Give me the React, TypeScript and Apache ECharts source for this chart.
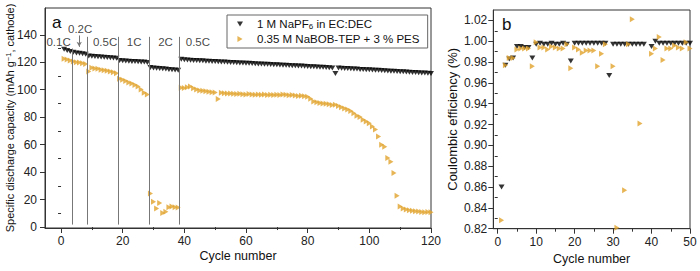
import React, { useEffect, useRef } from "react";
import * as echarts from "echarts";

// ---------- DATA ----------
const NAME_PF6 = "1 M NaPF6 in EC:DEC";
const NAME_BOB = "0.35 M NaBOB-TEP + 3 % PES";

// Specific discharge capacity (mAh/g), cycles 1..120
const capPF6 = [
  129.5, 128.5, 127.8, 127.2, 126.8, 126.5, 126.2, 125.9, 124.6, 124.4,
  124.2, 124.0, 123.8, 123.6, 123.4, 123.3, 123.1, 122.9, 121.3, 121.1,
  120.9, 120.8, 120.6, 120.5, 120.4, 120.2, 120.1, 119.9, 116.2, 115.9,
  115.6, 115.4, 115.2, 115.0, 114.8, 114.6, 114.4, 114.2, 122.2, 121.8,
  121.6, 121.5, 121.3, 121.2, 121.1, 121.0, 120.8, 120.7, 120.6, 120.5,
  120.3, 120.2, 120.1, 120.0, 119.9, 119.8, 119.6, 119.5, 119.4, 119.3,
  119.2, 119.1, 118.9, 118.8, 118.7, 118.6, 118.5, 118.4, 118.2, 118.1,
  118.0, 117.9, 117.8, 117.6, 117.5, 117.4, 117.3, 117.2, 117.0, 116.9,
  116.8, 116.7, 116.5, 116.4, 116.3, 116.2, 116.0, 115.9, 111.8, 115.8,
  115.6, 115.5, 115.4, 115.2, 115.1, 115.0, 114.8, 114.7, 114.6, 114.5,
  114.3, 114.2, 114.1, 113.9, 113.8, 113.7, 113.5, 113.4, 113.3, 113.1,
  113.0, 112.9, 112.7, 112.6, 112.5, 112.3, 112.2, 112.1, 111.9, 111.8,
];

const capBOB = [
  122.5, 122.0, 121.3, 120.5, 120.0, 119.8, 119.3, 118.7, 113.2, 116.0,
  115.5, 115.2, 114.6, 114.2, 113.8, 113.2, 112.8, 112.0, 108.0, 107.2,
  106.3, 105.2, 104.6, 103.5, 102.3, 100.2, 97.8, 96.5, 24.5, 18.5,
  13.5, 17.5, 10.2, 11.2, 14.5, 15.0, 14.5, 14.2, 101.5, 101.2,
  101.8, 102.3, 101.0, 100.2, 99.5, 99.3, 98.8, 98.6, 98.2, 98.0,
  93.2, 97.8, 97.5, 97.3, 97.2, 97.0, 96.8, 97.0, 96.7, 96.5,
  96.8, 96.6, 96.4, 96.5, 96.3, 96.5, 96.2, 96.4, 96.1, 96.3,
  96.2, 96.5, 96.3, 96.0, 96.2, 95.8, 95.5, 95.6, 95.2, 94.8,
  93.5, 91.5, 90.8, 90.3, 90.0, 89.8, 89.5, 88.8, 89.0, 88.2,
  87.3, 86.4, 85.5, 84.5, 82.8, 81.0, 80.2, 78.2, 76.8, 75.5,
  73.2, 71.0, 66.0, 60.0, 58.5, 50.2, 47.5, 39.3, 22.8, 15.0,
  13.5, 12.8, 12.3, 11.8, 11.5, 11.3, 11.0, 10.8, 11.0, 10.7,
];

// Coulombic efficiency, cycles 1..50 (null = outside plotted range / not visible)
const cePF6 = [
  0.860, 0.977, 0.983, 0.984, 0.995, 0.995, 0.994, 0.994, 0.984, 0.997,
  0.998, 0.997, 0.997, 0.998, 0.997, 0.997, 0.998, 0.997, 0.981, 0.998,
  0.998, 0.998, 0.998, 0.998, 0.998, 0.998, 0.998, 0.998, 0.967, 0.997,
  0.997, 0.997, 0.997, 0.997, 0.997, 0.997, 0.997, 0.997, null, 0.995,
  1.000, 0.998, 0.998, 0.998, 0.998, 0.998, 0.998, 0.998, 0.998, 0.998,
];

const ceBOB = [
  0.828, 0.977, 0.984, 0.984, 0.992, 0.993, 0.993, 0.993, 0.976, 0.999,
  0.994, 0.994, 0.992, 0.995, 0.994, 0.993, 0.993, 0.997, 0.974, 0.994,
  0.992, 0.989, 0.991, 0.991, 0.991, 0.976, 0.988, 0.997, null, 0.976,
  0.821, null, 0.857, 0.997, 1.021, null, 0.921, null, null, 0.988,
  0.993, 1.004, 0.982, 0.993, 0.993, 0.996, 0.994, 0.993, 0.999, 0.993,
];

// C-rate boundaries (cycle) and labels
const rateBoundaries = [3.5, 8.5, 18.5, 28.5, 38.5];
const rateLabels = ["0.1C", "0.2C", "0.5C", "1C", "2C", "0.5C"];
const rateLabelX = [-0.8, 6.2, 14.3, 23.7, 33.9, 44.4];
const rateLabelY = [135, 144, 135, 135, 135, 135];

// Tick labels
const capXTicks = [0, 20, 40, 60, 80, 100, 120];
const capXMinor = [10, 30, 50, 70, 90, 110];
const capYTicks = [0, 20, 40, 60, 80, 100, 120, 140];
const capYMinor = [10, 30, 50, 70, 90, 110, 130, 150];
const ceXTicks = [0, 10, 20, 30, 40, 50];
const ceXMinor = [5, 15, 25, 35, 45];
const ceYTicks = [0.82, 0.84, 0.86, 0.88, 0.9, 0.92, 0.94, 0.96, 0.98, 1.0, 1.02];
const ceYMinor = [0.83, 0.85, 0.87, 0.89, 0.91, 0.93, 0.95, 0.97, 0.99, 1.01];

// ---------- STYLE ----------
const FONT = "'Liberation Sans', Arial, Helvetica, sans-serif";
const AX = "#333";
const ORANGE = "#E1A32B";
const DOWN = "path://M0,0 L10,0 L5,8.5 Z";
const RIGHT = "path://M0,0 L8.5,5 L0,10 Z";

function toPairs(arr: (number | null)[]) {
  const out: any[] = [];
  arr.forEach((v, i) => {
    if (v !== null) out.push([i + 1, v]);
  });
  return out;
}

function majorAxis(gridIndex: number, min: number, max: number, ticks: number[], extra: any) {
  return {
    type: "value",
    gridIndex,
    min,
    max,
    nameMoveOverlap: false,
    axisLine: { show: true, onZero: false, lineStyle: { color: AX, width: 1 } },
    axisTick: { show: true, length: 5, customValues: ticks, lineStyle: { color: AX } },
    axisLabel: { customValues: ticks, fontSize: 12, color: "#222", fontFamily: FONT, margin: 7 },
    splitLine: { show: false },
    ...extra,
  };
}

function minorAxis(gridIndex: number, min: number, max: number, ticks: number[], position: string) {
  return {
    type: "value",
    gridIndex,
    min,
    max,
    position,
    axisLine: { show: false },
    axisTick: { show: true, length: 3, customValues: ticks, lineStyle: { color: AX } },
    axisLabel: { show: false },
    splitLine: { show: false },
  };
}

export default function App() {
  const ref = useRef<HTMLDivElement>(null);
  useEffect(() => {
    if (!ref.current) return;
    const chart = echarts.init(ref.current, null, { renderer: "svg" });
    const option: any = {
      animation: false,
      textStyle: { fontFamily: FONT },
      grid: [
        {
          left: 45, top: 8, width: 386, height: 220, show: true, borderColor: AX, borderWidth: 1,
          containLabel: false, outerBoundsMode: "none",
        },
        {
          left: 493.3, top: 10, width: 196.7, height: 218.7, show: true, borderColor: AX, borderWidth: 1,
          containLabel: false, outerBoundsMode: "none",
        },
      ],
      xAxis: [
        majorAxis(0, -5.2, 120, capXTicks, {
          position: "bottom",
          name: "Cycle number",
          nameLocation: "middle",
          nameGap: 21,
          nameTextStyle: { fontSize: 12.5, color: "#111", fontFamily: FONT },
        }),
        minorAxis(0, -5.2, 120, capXMinor, "bottom"),
        majorAxis(1, -1.15, 50, ceXTicks, {
          position: "bottom",
          name: "Cycle number",
          nameLocation: "middle",
          nameGap: 24,
          nameTextStyle: { fontSize: 12.5, color: "#111", fontFamily: FONT },
        }),
        minorAxis(1, -1.15, 50, ceXMinor, "bottom"),
      ],
      yAxis: [
        majorAxis(0, -0.7, 159.5, capYTicks, {
          position: "left",
          name: "Specific discharge capacity (mAh g{sup|−1}, cathode)",
          nameLocation: "middle",
          nameGap: 30,
          nameTextStyle: {
            fontSize: 11,
            color: "#111",
            fontFamily: FONT,
            rich: { sup: { fontSize: 7.5, verticalAlign: "top", fontFamily: FONT, color: "#111" } },
          },
          axisLabel: { customValues: capYTicks, fontSize: 12, color: "#222", fontFamily: FONT, margin: 8 },
        }),
        minorAxis(0, -0.7, 159.5, capYMinor, "left"),
        majorAxis(1, 0.82, 1.03, ceYTicks, {
          position: "left",
          name: "Coulombic efficiency (%)",
          nameLocation: "middle",
          nameGap: 34,
          nameTextStyle: { fontSize: 13, color: "#111", fontFamily: FONT },
          axisLabel: {
            customValues: ceYTicks,
            fontSize: 12,
            color: "#222",
            fontFamily: FONT,
            margin: 6,
            formatter: (v: number) => v.toFixed(2),
          },
        }),
        minorAxis(1, 0.82, 1.03, ceYMinor, "left"),
      ],
      legend: {
        left: 227,
        top: 15,
        orient: "vertical",
        padding: [3, 8, 3, 10],
        itemGap: 3,
        itemWidth: 6,
        itemHeight: 6,
        borderColor: "#666",
        borderWidth: 1,
        backgroundColor: "#fff",
        selectedMode: false,
        formatter: (n: string) => (n === NAME_PF6 ? "1 M NaPF{sub|6} in EC:DEC" : n),
        textStyle: {
          fontSize: 11.5,
          color: "#111",
          fontFamily: FONT,
          padding: [0, 0, 0, 9],
          rich: { sub: { fontSize: 8, verticalAlign: "bottom", fontFamily: FONT, color: "#111" } },
        },
        data: [
          { name: NAME_PF6, icon: DOWN, itemStyle: { color: "#000" } },
          { name: NAME_BOB, icon: RIGHT, itemStyle: { color: ORANGE } },
        ],
      },
      graphic: [
        { type: "text", x: 52, y: 22, style: { text: "a", fontSize: 17, fill: "#111", fontFamily: FONT, verticalAlign: "middle" } },
        { type: "text", x: 502, y: 24.5, style: { text: "b", fontSize: 17, fill: "#111", fontFamily: FONT, verticalAlign: "middle" } },
      ],
      series: [
        {
          name: NAME_PF6,
          type: "scatter",
          xAxisIndex: 0,
          yAxisIndex: 0,
          symbol: DOWN,
          symbolSize: [6, 5],
          itemStyle: { color: "#000" },
          data: toPairs(capPF6),
          z: 3,
          markLine: {
            silent: true,
            symbol: ["none", "none"],
            label: { show: false },
            lineStyle: { color: "#777", width: 1, type: "solid" },
            data: [
              ...rateBoundaries.map((b, i) => [
                { coord: [b, 1.8] },
                { coord: [b, i === 0 ? 130 : 138.5] },
              ]),
              [
                { coord: [rateLabelX[1] - 0.3, 139.5], symbol: "none" },
                { coord: [rateLabelX[1] - 0.3, 131.2], symbol: "arrow", symbolSize: [4, 5] },
              ],
            ],
          },
        },
        {
          name: NAME_BOB,
          type: "scatter",
          xAxisIndex: 0,
          yAxisIndex: 0,
          symbol: RIGHT,
          symbolSize: [5, 6],
          itemStyle: { color: ORANGE },
          data: toPairs(capBOB),
          z: 3,
        },
        {
          name: "rates",
          type: "scatter",
          xAxisIndex: 0,
          yAxisIndex: 0,
          symbolSize: 0,
          silent: true,
          data: rateLabels.map((t, i) => ({ name: t, value: [rateLabelX[i], rateLabelY[i]] })),
          label: {
            show: true,
            position: "inside",
            formatter: "{b}",
            fontSize: 11.5,
            color: "#111",
            fontFamily: FONT,
          },
        },
        {
          name: NAME_PF6,
          type: "scatter",
          xAxisIndex: 2,
          yAxisIndex: 2,
          symbol: DOWN,
          symbolSize: [6, 5],
          itemStyle: { color: "#000" },
          data: toPairs(cePF6),
        },
        {
          name: NAME_BOB,
          type: "scatter",
          xAxisIndex: 2,
          yAxisIndex: 2,
          symbol: RIGHT,
          symbolSize: [5, 6],
          itemStyle: { color: ORANGE },
          data: toPairs(ceBOB),
        },
      ],
    };
    chart.setOption(option);
    return () => chart.dispose();
  }, []);
  return (
    <div
      ref={ref}
      style={{ position: "fixed", left: 0, top: 0, width: 700, height: 271, background: "#fff" }}
    />
  );
}
